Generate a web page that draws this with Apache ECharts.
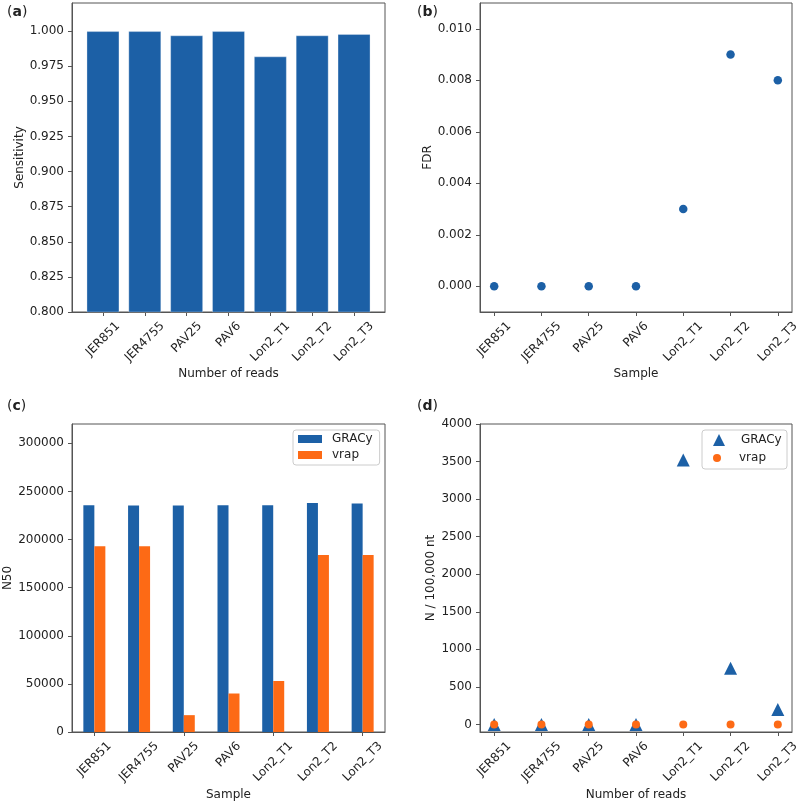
<!DOCTYPE html>
<html><head><meta charset="utf-8">
<script src="https://cdn.jsdelivr.net/npm/echarts@6/dist/echarts.min.js"></script>
<style>html,body{margin:0;padding:0;background:#fff}#c{width:800px;height:804px}</style>
</head><body><div id="c"></div>
<script>
const samples = ['JER851','JER4755','PAV25','PAV6','Lon2_T1','Lon2_T2','Lon2_T3'];
const sensitivity = [1.000,1.000,0.997,1.000,0.982,0.997,0.998];
const fdr = [0,0,0,0,0.003,0.009,0.008];
const n50Gracy = [235500,235300,235300,235500,235500,237800,237500];
const n50Vrap = [193000,193000,17500,40000,53000,184000,183800];
const nGracy = [0,0,0,0,3520,750,200];
const nVrap = [0,0,0,0,0,0,0];
const sensTicks = [0.800,0.825,0.850,0.875,0.900,0.925,0.950,0.975,1.000];
const fdrTicks = [0,0.002,0.004,0.006,0.008,0.010];
const n50Ticks = [0,50000,100000,150000,200000,250000,300000];
const nTicks = [0,500,1000,1500,2000,2500,3000,3500,4000];
const idx = samples.map((s,i)=>i);

const BLUE = '#1c60a6', ORANGE = '#fd6a15';
const FONT = 'DejaVu Sans';
const TXT = '#222';
const AX = '#555';
const FS = 12;

const grids = [
  {left:72, top:3, width:313, height:309},
  {left:480, top:3, width:312, height:309},
  {left:72, top:424, width:313, height:308},
  {left:480, top:424, width:312, height:308}
];

function valX(gi, min, max){
  return {type:'value', gridIndex:gi, min:min, max:max,
    axisLine:{show:true, onZero:false, lineStyle:{color:AX}},
    axisTick:{show:true, length:4, customValues: idx, lineStyle:{color:AX}},
    axisLabel:{show:false}, splitLine:{show:false}};
}
function valY(gi, min, max, ticks, fmt, name, gap){
  return {type:'value', gridIndex:gi, min:min, max:max,
    name:name, nameLocation:'middle', nameGap:gap,
    nameTextStyle:{fontFamily:FONT, fontSize:FS, color:TXT},
    axisLine:{show:true, onZero:false, lineStyle:{color:AX}},
    axisTick:{show:true, length:4, customValues: ticks, lineStyle:{color:AX}},
    axisLabel:{show:true, customValues: ticks, formatter: fmt, margin:8,
      fontFamily:FONT, fontSize:FS, color:TXT},
    splitLine:{show:false}};
}
function xName(name, gap){
  return {name:name, nameLocation:'middle', nameGap:gap,
    nameTextStyle:{fontFamily:FONT, fontSize:FS, color:TXT}};
}

const option = {
  animation:false,
  backgroundColor:'#fff',
  grid: grids.map(g=>Object.assign({show:true, borderColor:AX, borderWidth:1, containLabel:false}, g)),
  xAxis: [
    Object.assign(valX(0,-0.74,6.74), xName('Number of reads',56)),
    Object.assign(valX(1,-0.3,6.3), xName('Sample',56)),
    Object.assign({type:'category', gridIndex:2, data:samples, boundaryGap:true,
      axisLine:{show:true, lineStyle:{color:AX}},
      axisTick:{show:true, length:4, alignWithLabel:true, lineStyle:{color:AX}},
      axisLabel:{show:false}, splitLine:{show:false}}, xName('Sample',57)),
    Object.assign(valX(3,-0.3,6.3), xName('Number of reads',57))
  ],
  yAxis: [
    valY(0,0.8,1.02,sensTicks,v=>v.toFixed(3),'Sensitivity',46),
    valY(1,-0.001,0.011,fdrTicks,v=>v.toFixed(3),'FDR',46),
    valY(2,0,320000,n50Ticks,v=>String(Math.round(v)),'N50',58),
    valY(3,-100,4000,nTicks,v=>String(Math.round(v)),'N / 100,000 nt',43)
  ],
  legend: [
    {left:293, top:430, orient:'vertical', itemWidth:24, itemHeight:8, itemGap:4,
     padding:[3,7,4,5], borderColor:'#ccc', borderWidth:1, borderRadius:3,
     backgroundColor:'rgba(255,255,255,0.8)',
     textStyle:{fontFamily:FONT, fontSize:12, color:TXT, padding:[0,0,0,5]},
     data:[{name:'GRACy', icon:'rect'},{name:'vrap', icon:'rect'}]},
    {left:713, top:434, orient:'vertical', itemWidth:12, itemHeight:12,
     padding:0, textStyle:{fontFamily:FONT, fontSize:12, color:TXT, padding:[0,0,0,11]},
     data:[{name:'GRACy', icon:'triangle', itemStyle:{color:BLUE, opacity:1}}]},
    {left:713, top:452, orient:'vertical', itemWidth:12, itemHeight:8,
     padding:0, textStyle:{fontFamily:FONT, fontSize:12, color:TXT, padding:[0,0,0,11]},
     data:[{name:'vrap', icon:'circle', itemStyle:{color:ORANGE, opacity:1}}]}
  ],
  series: [
    {type:'bar', xAxisIndex:0, yAxisIndex:0, barWidth:33, clip:true,
     itemStyle:{color:BLUE, borderColor:'rgba(255,255,255,0.3)', borderWidth:1}, data: idx.map(i=>[i, sensitivity[i]])},
    {type:'scatter', xAxisIndex:1, yAxisIndex:1, symbol:'circle', symbolSize:8.5,
     itemStyle:{color:BLUE, opacity:1}, data: idx.map(i=>[i, fdr[i]])},
    {name:'GRACy', type:'bar', xAxisIndex:2, yAxisIndex:2, barWidth:11, barGap:'0%',
     itemStyle:{color:BLUE}, data:n50Gracy},
    {name:'vrap', type:'bar', xAxisIndex:2, yAxisIndex:2, barWidth:11, barGap:'0%',
     itemStyle:{color:ORANGE}, data:n50Vrap},
    {name:'GRACy', type:'scatter', xAxisIndex:3, yAxisIndex:3, symbol:'triangle', symbolSize:13,
     itemStyle:{color:BLUE, opacity:1}, data: idx.map(i=>[i, nGracy[i]])},
    {name:'vrap', type:'scatter', xAxisIndex:3, yAxisIndex:3, symbol:'circle', symbolSize:8,
     itemStyle:{color:ORANGE, opacity:1}, data: idx.map(i=>[i, nVrap[i]])}
  ]
};

const chart = echarts.init(document.getElementById('c'), null, {renderer:'canvas'});
chart.setOption(option);

// rotated tick labels, bbox centred under each tick (matplotlib style)
const ctx = document.createElement('canvas').getContext('2d');
ctx.font = FS + 'px "' + FONT + '"';
const graphics = [];
[0,1,2,3].forEach(k=>{
  const g = grids[k];
  const bottom = g.top + g.height;
  samples.forEach((s,i)=>{
    const px = chart.convertToPixel({xAxisIndex:k}, k===2 ? s : i);
    const L = ctx.measureText(s).width;
    const H = 0.7071*(L + FS);
    graphics.push({type:'text', x:px, y:bottom + 8 + H/2, rotation:Math.PI/4,
      style:{text:s, font: FS + 'px "' + FONT + '"', fill:TXT, align:'center', verticalAlign:'middle'}});
  });
});
const letters = [['a',7,5],['b',417,5],['c',7,399],['d',417,399]];
letters.forEach(([l,x,y])=>{
  graphics.push({type:'text', left:x, top:y,
    style:{text:'({b|'+l+'})', font:'14px "'+FONT+'"', fill:TXT,
      rich:{b:{fontFamily:FONT, fontSize:14, fontWeight:'bold', fill:TXT}}}});
});
graphics.push({type:'rect', shape:{x:702, y:430, width:85, height:39, r:3},
  style:{fill:'rgba(255,255,255,0.8)', stroke:'#ccc', lineWidth:1}, z:-1, zlevel:0});
chart.setOption({graphic: graphics});
</script></body></html>
